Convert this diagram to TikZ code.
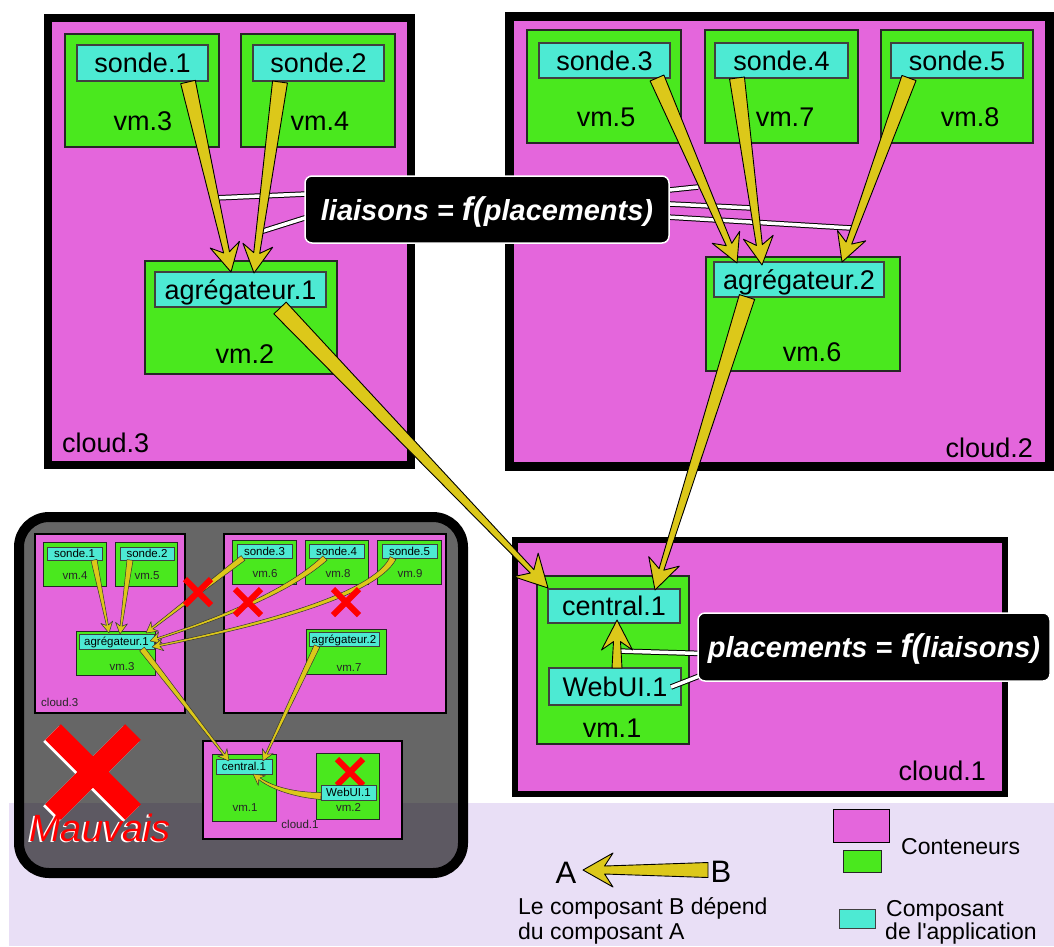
\documentclass[tikz,border=0pt]{standalone}
\usepackage{fontspec}
\setmainfont{Liberation Sans}
\newfontfamily\plainfont{Liberation Sans}
\usetikzlibrary{calc}
\definecolor{cpink}{HTML}{E466DC}
\definecolor{cgreen}{HTML}{4AE81E}
\definecolor{ccyan}{HTML}{4DEAD3}
\definecolor{cyel}{HTML}{DCC81A}
\definecolor{cband}{HTML}{E9DFF6}
\newcommand\fsmain{\fontsize{27}{30}\selectfont}
\newcommand\fsin{\fontsize{11.5}{13}\selectfont}
\newcommand\fsleg{\plainfont\fontsize{23}{26}\selectfont}
\newcommand\fsab{\fontsize{31}{34}\selectfont}
\newcommand\fscall{\fontsize{29}{32}\selectfont\bfseries\itshape}
\newcommand\fsbad{\fontsize{38}{42}\selectfont\itshape}
% tapered straight arrow: [style]{start}{tip}{start half width}{neck half width}{head length}{head half width}
\newcommand\tarr[7][arr]{%
  \coordinate (tS) at (#2); \coordinate (tT) at (#3);
  \coordinate (tN) at ($(tT)!#6*0.72!(tS)$);
  \coordinate (tB) at ($(tT)!#6!(tS)$);
  \filldraw[#1] ($(tS)!#4!90:(tT)$) -- ($(tN)!#5!90:(tT)$) -- ($(tB)!#7!90:(tT)$) -- (tT)
    -- ($(tB)!#7!-90:(tT)$) -- ($(tN)!#5!-90:(tT)$) -- ($(tS)!#4!-90:(tT)$) -- cycle;
}
% tapered curved arrow: [style]{start}{ctrl1}{ctrl2}{tip}{start half width}{head length}{head half width}
\newcommand\carr[8][arr]{%
  \coordinate (tS) at (#2); \coordinate (tA) at (#3); \coordinate (tC) at (#4); \coordinate (tT) at (#5);
  \coordinate (tN) at ($(tT)!#7*0.72!(tC)$);
  \coordinate (tB) at ($(tT)!#7!(tC)$);
  \filldraw[#1] ($(tS)!#6!90:(tA)$) .. controls ($(tA)!#6*0.7!90:(tC)$) and ($(tC)!#6*0.45!90:(tT)$) .. ($(tN)!#6*0.3!90:(tT)$)
    -- ($(tB)!#8!90:(tT)$) -- (tT) -- ($(tB)!#8!-90:(tT)$) -- ($(tN)!#6*0.3!-90:(tT)$)
    .. controls ($(tC)!#6*0.45!-90:(tT)$) and ($(tA)!#6*0.7!-90:(tC)$) .. ($(tS)!#6!-90:(tA)$) -- cycle;
}
\begin{document}
\begin{tikzpicture}[x=1pt,y=-1pt,
  cloudn/.style={rectangle, draw=black, fill=cpink, inner sep=0pt, outer sep=0pt},
  vmn/.style={rectangle, draw=black!85, fill=cgreen, line width=1.6pt, inner sep=0pt},
  compn/.style={rectangle, draw=black!75, fill=ccyan, line width=1.3pt, inner sep=0pt, font=\fsmain, text height=19.4pt, text depth=0pt},
  lbl/.style={inner sep=0pt, font=\fsmain, text height=19.4pt, text depth=0pt},
  vmi/.style={rectangle, draw=black!85, fill=cgreen, line width=0.9pt, inner sep=0pt},
  compi/.style={rectangle, draw=black!75, fill=ccyan, line width=0.7pt, inner sep=0pt, font=\fsin, text height=8.3pt, text depth=0pt},
  lbli/.style={inner sep=0pt, font=\fsin, text height=8.3pt, text depth=0pt, text=black!85},
  lbll/.style={inner sep=0pt, font=\fsleg, text height=16.5pt, text depth=0pt},
  callout/.style={rectangle, rounded corners=7pt, fill=black, draw=white, line width=1.5pt, text=white, font=\fscall, text height=21pt, text depth=0pt, inner sep=0pt},
  cline/.style={draw=black, line width=1pt, double=white, double distance=3.5pt},
  arr/.style={fill=cyel, draw=black, line width=0.9pt, line join=round},
  arrs/.style={fill=cyel, draw=black!80, line width=0.5pt, line join=round},
  redx/.style={draw=red, line width=#1}
]
\useasboundingbox (0,0) rectangle (1054,946);
\fill[white] (0,0) rectangle (1054,946);
\fill[cband] (9,803) rectangle (1054,946);

% ---------- cloud.3 ----------
\node[cloudn, line width=8pt, minimum width=363pt, minimum height=447pt] (c3) at (229.5,241.5) {};
\node[vmn, minimum width=154pt, minimum height=113pt] (vm3) at (142,90.5) {};
\node[compn, minimum width=131pt, minimum height=36pt] (s1) at (142.5,63) {sonde.1};
\node[lbl] (lvm3) at (143,121) {vm.3};
\node[vmn, minimum width=154pt, minimum height=113pt] (vm4) at (318,90.5) {};
\node[compn, minimum width=131pt, minimum height=36pt] (s2) at (318.5,63) {sonde.2};
\node[lbl] (lvm4) at (320,121) {vm.4};
\node[vmn, minimum width=192pt, minimum height=113pt] (vm2) at (241,317.5) {};
\node[compn, minimum width=171pt, minimum height=35pt] (ag1) at (240.5,289.5) {agrégateur.1};
\node[lbl] (lvm2) at (245,354) {vm.2};
\node[lbl, anchor=west] (lc3) at (62,443) {cloud.3};

% ---------- cloud.2 ----------
\node[cloudn, line width=9pt, minimum width=540pt, minimum height=450pt] (c2) at (779,241) {};
\node[vmn, minimum width=154pt, minimum height=113pt] (vm5) at (604,86.5) {};
\node[compn, minimum width=131pt, minimum height=35pt] (s3) at (604.5,60.5) {sonde.3};
\node[lbl] (lvm5) at (606,117) {vm.5};
\node[vmn, minimum width=153pt, minimum height=113pt] (vm7) at (781.5,86.5) {};
\node[compn, minimum width=133pt, minimum height=35pt] (s4) at (781.5,60.5) {sonde.4};
\node[lbl] (lvm7) at (785,117) {vm.7};
\node[vmn, minimum width=152pt, minimum height=113pt] (vm8) at (957,86.5) {};
\node[compn, minimum width=132pt, minimum height=35pt] (s5) at (957,60.5) {sonde.5};
\node[lbl] (lvm8) at (970,117) {vm.8};
\node[vmn, minimum width=194pt, minimum height=114pt] (vm6) at (803,314) {};
\node[compn, minimum width=170pt, minimum height=35pt] (ag2) at (799,279.5) {agrégateur.2};
\node[lbl] (lvm6) at (812,352) {vm.6};
\node[lbl, anchor=east] (lc2) at (1033,448) {cloud.2};

% ---------- cloud.1 ----------
\node[cloudn, line width=6pt, minimum width=490pt, minimum height=254pt] (c1) at (760,667) {};
\node[vmn, minimum width=152pt, minimum height=168pt] (vm1) at (613,660) {};
\node[compn, minimum width=132pt, minimum height=34pt] (cen1) at (614,606) {central.1};
\node[compn, minimum width=132pt, minimum height=37pt] (web1) at (615,686.5) {WebUI.1};
\node[lbl] (lvm1) at (612,728) {vm.1};
\node[lbl, anchor=east] (lc1) at (986,771) {cloud.1};

% ---------- callout lines ----------
\coordinate (k0) at (330,193); \coordinate (k1) at (214,198);
\coordinate (k2) at (330,210); \coordinate (k3) at (260,232);
\coordinate (k4) at (650,192); \coordinate (k5) at (698,187);
\coordinate (k6) at (650,203); \coordinate (k7) at (752,208);
\coordinate (k8) at (650,216); \coordinate (k9) at (851,228);
\coordinate (q0) at (720,654); \coordinate (q1) at (617,651);
\coordinate (q2) at (720,668); \coordinate (q3) at (671,687);
\draw[cline] (k0) -- (k1);
\draw[cline] (k2) -- (k3);
\draw[cline] (k4) -- (k5);
\draw[cline] (k6) -- (k7);
\draw[cline] (k8) -- (k9);
\draw[cline] (q0) -- (q1);
\draw[cline] (q2) -- (q3);

% ---------- main arrows ----------
\tarr{188,82}{231,272}{7.5pt}{3pt}{28pt}{15pt}
\tarr{280,82}{254,273}{7.5pt}{3pt}{28pt}{15pt}
\tarr{657,78}{737,263}{7.5pt}{3pt}{28pt}{15pt}
\tarr{737,78}{762,265}{7.5pt}{3pt}{28pt}{15pt}
\tarr{909,78}{842,262}{7.5pt}{3pt}{28pt}{15pt}
\tarr{280,308}{548,588}{8.5pt}{2.5pt}{32pt}{17pt}
\tarr{747,297}{655,590}{8pt}{2.5pt}{30pt}{16pt}
\tarr{617,668}{617,620}{5pt}{3.5pt}{30pt}{15.5pt}

% ---------- callouts ----------
\node[callout, minimum width=364pt, minimum height=67pt] (cb1) at (487,209.5) {liaisons = {\fontsize{33}{33}\selectfont f(}placements)};
\node[callout, minimum width=352pt, minimum height=68pt] (cb2) at (874,647) {placements = {\fontsize{33}{33}\selectfont f(}liaisons)};

% ---------- inset (bad example) ----------
\node[rectangle, rounded corners=30pt, draw=black, line width=10pt, fill=black, fill opacity=0.6, minimum width=444pt, minimum height=356pt, inner sep=0pt] (bad) at (241,695) {};
\node[cloudn, line width=2.5pt, minimum width=150pt, minimum height=179pt] (ic3) at (110,623.5) {};
\node[cloudn, line width=2.5pt, minimum width=222pt, minimum height=179pt] (ic2) at (335,623.5) {};
\node[cloudn, line width=2.5pt, minimum width=199pt, minimum height=98pt] (ic1) at (302.5,790) {};
\node[vmi, minimum width=63pt, minimum height=44pt] (ivm4) at (74.5,564) {};
\node[compi, minimum width=55pt, minimum height=13pt] (is1) at (74.5,553.5) {sonde.1};
\node[lbli] (ilvm4) at (75,575) {vm.4};
\node[vmi, minimum width=62pt, minimum height=44pt] (ivm5) at (146,564) {};
\node[compi, minimum width=54pt, minimum height=13pt] (is2) at (147,553.5) {sonde.2};
\node[lbli] (ilvm5) at (147,575) {vm.5};
\node[vmi, minimum width=79pt, minimum height=44pt] (ivm3) at (115.5,653) {};
\node[compi, minimum width=75pt, minimum height=15pt] (iag1) at (116.5,641.5) {agrégateur.1};
\node[lbli] (ilvm3) at (122,666) {vm.3};
\node[lbli, anchor=west] (ilc3) at (41,702) {cloud.3};
\node[vmi, minimum width=64pt, minimum height=44pt] (ivm6) at (264,562) {};
\node[compi, minimum width=55pt, minimum height=14pt] (is3) at (264.5,551) {sonde.3};
\node[lbli] (ilvm6) at (265,573) {vm.6};
\node[vmi, minimum width=63pt, minimum height=44pt] (ivm8) at (336.5,562) {};
\node[compi, minimum width=55pt, minimum height=14pt] (is4) at (336.5,551) {sonde.4};
\node[lbli] (ilvm8) at (338,573) {vm.8};
\node[vmi, minimum width=64pt, minimum height=44pt] (ivm9) at (409,562) {};
\node[compi, minimum width=55pt, minimum height=14pt] (is5) at (409.5,551) {sonde.5};
\node[lbli] (ilvm9) at (410,573) {vm.9};
\node[vmi, minimum width=80pt, minimum height=45pt] (ivm7) at (346,651.5) {};
\node[compi, minimum width=70pt, minimum height=14pt] (iag2) at (344,639) {agrégateur.2};
\node[lbli] (ilvm7) at (349,667) {vm.7};
\node[vmi, minimum width=64pt, minimum height=67pt] (ivm1) at (244,787.5) {};
\node[compi, minimum width=56pt, minimum height=15pt] (icen1) at (244,766.5) {central.1};
\node[lbli] (ilvm1) at (245,807) {vm.1};
\node[vmi, minimum width=63pt, minimum height=66pt] (ivm2) at (347.5,786) {};
\draw[redx=6pt] (337,759) -- (363,785) (363,759) -- (337,785);
\node[compi, minimum width=55pt, minimum height=15pt] (iweb1) at (348.5,792.5) {WebUI.1};
\node[lbli] (ilvm2) at (348.5,807) {vm.2};
\node[lbli] (ilc1) at (300,824) {cloud.1};

% inset arrows
\tarr[arrs]{94,560}{109,633}{3pt}{1pt}{11pt}{6pt}
\tarr[arrs]{130,560}{120,634}{3pt}{1pt}{11pt}{6pt}
\tarr[arrs]{243,558}{146,633}{3pt}{1pt}{11pt}{6pt}
\carr[arrs]{325,558}{290,590}{230,615}{150,641}{3pt}{11pt}{6pt}
\carr[arrs]{393,558}{375,595}{260,625}{152,647}{3.2pt}{11pt}{6pt}
\tarr[arrs]{142,649}{229,761}{3pt}{1pt}{11pt}{6pt}
\tarr[arrs]{317,646}{263,761}{3pt}{1pt}{11pt}{6pt}
\carr[arrs]{321,796}{295,795}{272,788}{253,774}{3.5pt}{11pt}{6pt}

% red crosses
\draw[redx=6pt] (185,579) -- (211,605) (211,579) -- (185,605);
\draw[redx=6pt] (235,589) -- (261,615) (261,589) -- (235,615);
\draw[redx=6pt] (333,589) -- (359,615) (359,589) -- (333,615);
\draw[draw=white, line width=22pt] (51,734) -- (131,814) (131,734) -- (51,814);
\draw[redx=22pt] (53,732) -- (133,812) (133,732) -- (53,812);
\node[inner sep=0pt, font=\fsbad, text=white] (badw) at (98.6,829.4) {Mauvais};
\node[inner sep=0pt, font=\fsbad, text=red] (badt) at (100,828) {Mauvais};

% ---------- legend ----------
\node[lbll, font=\fsab, text height=22.3pt] (legA) at (566,872) {A};
\node[lbll, font=\fsab, text height=22.3pt] (legB) at (721,871) {B};
\tarr{708,870}{583,870}{7.5pt}{4pt}{30pt}{17pt}
\node[lbll, anchor=west] (leg1) at (518,906) {Le composant B dépend};
\node[lbll, anchor=west] (leg2) at (518,931) {du composant A};
\node[cloudn, line width=1.2pt, minimum width=56pt, minimum height=33pt] (lgp) at (861.5,826) {};
\node[vmn, line width=1.2pt, minimum width=38pt, minimum height=22pt] (lgg) at (862.5,861.5) {};
\node[compn, line width=1.2pt, minimum width=36pt, minimum height=16pt] (lgc) at (857.5,919) {};
\node[lbll, anchor=west] (leg3) at (901,846) {Conteneurs};
\node[lbll, anchor=west] (leg4) at (886,908) {Composant};
\node[lbll, anchor=west] (leg5) at (885,931) {de l'application};
\end{tikzpicture}
\end{document}
